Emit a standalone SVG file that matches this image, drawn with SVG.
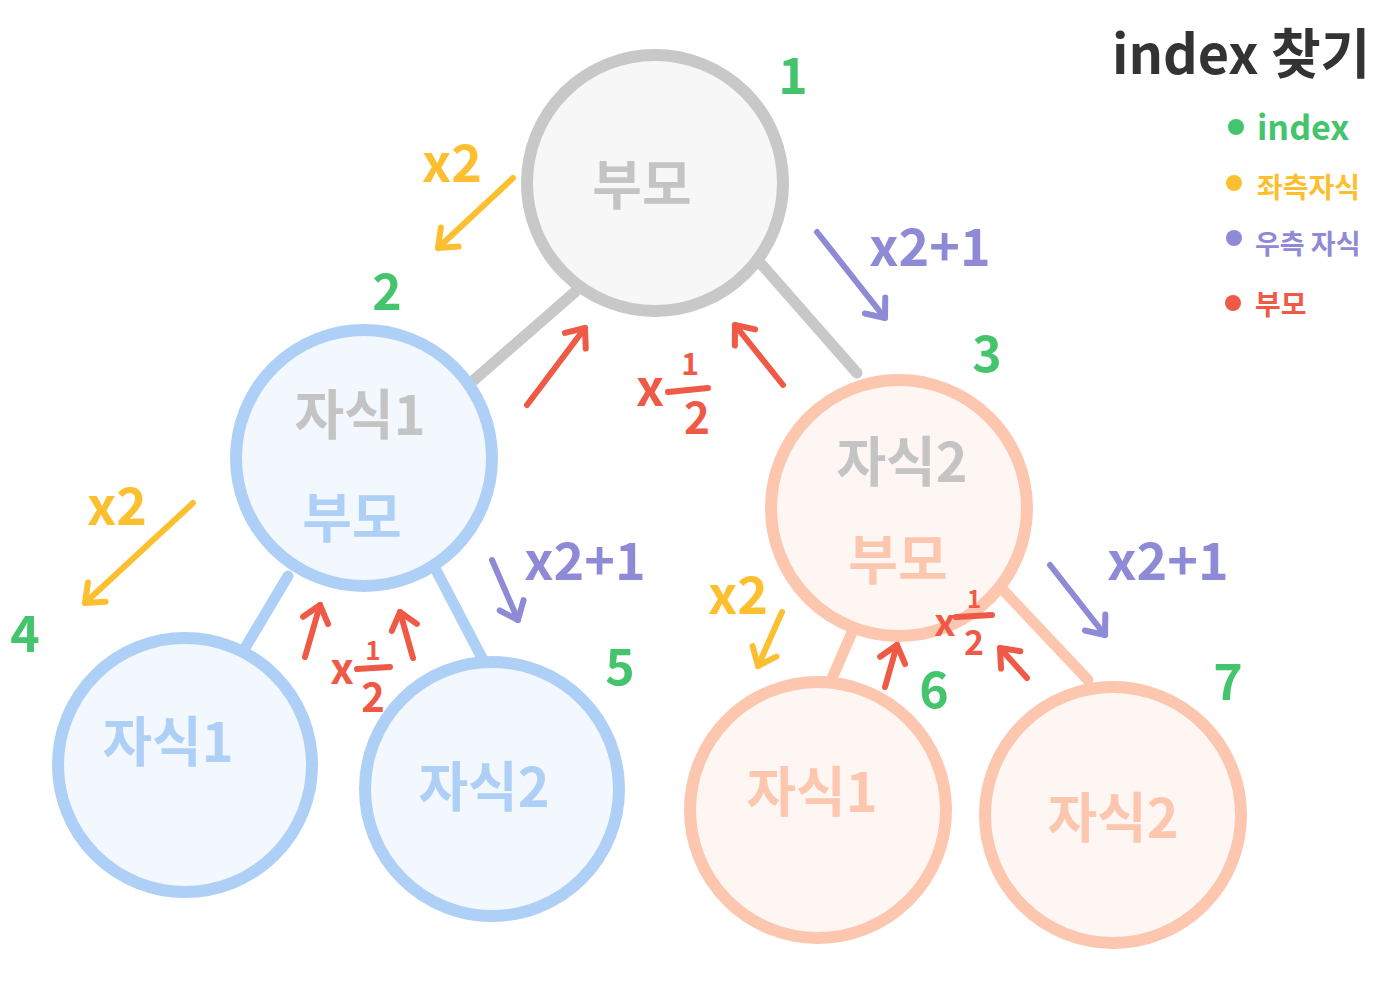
<svg xmlns="http://www.w3.org/2000/svg" width="1378" height="999" viewBox="0 0 1378 999">
<defs>
<style>
text{font-family:"Noto Sans CJK KR","Noto Sans",sans-serif;font-weight:700}
.lbl{font-size:54px;text-anchor:middle}
.g{fill:#c4c4c4}
.num{fill:#45c46e;font-size:50px;text-anchor:middle}
.ye{fill:#fcbf2f}
.pu{fill:#8e8ad6}
.re{fill:#ef5a47}
.ann{font-size:52px;text-anchor:middle}
.gray{fill:#f7f7f7;stroke:#c8c8c8;stroke-width:12}
.blue{fill:#f3f8fe;stroke:#aed0f7;stroke-width:12}
.peach{fill:#fdf6f2;stroke:#fdc6ae;stroke-width:12}
.edge{stroke-width:11;stroke-linecap:round;fill:none}
.arr{stroke-width:6;stroke-linecap:round;fill:none}
.fl{stroke:#ef5a47;stroke-width:6;stroke-linecap:round}
</style>
<marker id="hy" markerUnits="userSpaceOnUse" markerWidth="40" markerHeight="40" refX="0" refY="0" viewBox="-20 -20 40 40" orient="auto"><path d="M-16,-13 L0,0 L-16,13" fill="none" stroke="#fcbf2f" stroke-width="6" stroke-linecap="round" stroke-linejoin="round"/></marker>
<marker id="hp" markerUnits="userSpaceOnUse" markerWidth="40" markerHeight="40" refX="0" refY="0" viewBox="-20 -20 40 40" orient="auto"><path d="M-16,-13 L0,0 L-16,13" fill="none" stroke="#8e8ad6" stroke-width="6" stroke-linecap="round" stroke-linejoin="round"/></marker>
<marker id="hr" markerUnits="userSpaceOnUse" markerWidth="40" markerHeight="40" refX="0" refY="0" viewBox="-20 -20 40 40" orient="auto"><path d="M-16,-13 L0,0 L-16,13" fill="none" stroke="#ef5a47" stroke-width="6" stroke-linecap="round" stroke-linejoin="round"/></marker>
</defs>
<rect width="1378" height="999" fill="#ffffff"/>

<g id="connectors">
<line class="edge" x1="575" y1="292" x2="474" y2="380" stroke="#c8c8c8"/>
<line class="edge" x1="762" y1="265" x2="857" y2="373" stroke="#c8c8c8"/>
<line class="edge" x1="288" y1="576" x2="245" y2="648" stroke="#aed0f7"/>
<line class="edge" x1="436" y1="570" x2="483" y2="660" stroke="#aed0f7"/>
<line class="edge" x1="853" y1="630" x2="830" y2="683" stroke="#fdc6ae"/>
<line class="edge" x1="1005" y1="592" x2="1088" y2="680" stroke="#fdc6ae"/>
</g>

<g id="node1">
<circle class="gray" cx="655" cy="183" r="128"/>
<text class="lbl g" x="642" y="205" font-size="60">부모</text>
<text class="num" x="793" y="94">1</text>
</g>
<g id="node2">
<circle class="blue" cx="364" cy="458" r="128"/>
<text class="lbl g" x="360" y="435">자식1</text>
<text class="lbl" x="352" y="538" fill="#aed0f7">부모</text>
<text class="num" x="387" y="310">2</text>
</g>
<g id="node3">
<circle class="peach" cx="899" cy="508" r="128"/>
<text class="lbl g" x="902" y="482">자식2</text>
<text class="lbl" x="898" y="580" fill="#fdc6ae">부모</text>
<text class="num" x="987" y="372">3</text>
</g>
<g id="node4">
<circle class="blue" cx="185" cy="765" r="127"/>
<text class="lbl" x="168" y="762" fill="#aed0f7">자식1</text>
<text class="num" x="25" y="652">4</text>
</g>
<g id="node5">
<circle class="blue" cx="492" cy="789" r="127"/>
<text class="lbl" x="484" y="807" fill="#aed0f7">자식2</text>
<text class="num" x="620" y="685">5</text>
</g>
<g id="node6">
<circle class="peach" cx="818" cy="810" r="128"/>
<text class="lbl" x="812" y="812" fill="#fdc6ae">자식1</text>
<text class="num" x="934" y="708">6</text>
</g>
<g id="node7">
<circle class="peach" cx="1113" cy="815" r="128"/>
<text class="lbl" x="1113" y="838" fill="#fdc6ae">자식2</text>
<text class="num" x="1228" y="700">7</text>
</g>

<g id="annotations">
<text class="ann ye" x="452" y="182">x2</text>
<path class="arr" d="M513,178 L438,248" stroke="#fcbf2f" marker-end="url(#hy)"/>
<text class="ann pu" x="930" y="266">x2+1</text>
<path class="arr" d="M817,232 L885,318" stroke="#8e8ad6" marker-end="url(#hp)"/>
<path class="arr" d="M527,405 L585,328" stroke="#ef5a47" marker-end="url(#hr)"/>
<path class="arr" d="M783,385 L735,325" stroke="#ef5a47" marker-end="url(#hr)"/>
<g class="re">
<text x="650" y="406" font-size="50" text-anchor="middle">x</text>
<text x="690" y="375" font-size="30" text-anchor="middle">1</text>
<line class="fl" x1="668" y1="392" x2="708" y2="388"/>
<text x="697" y="434" font-size="44" text-anchor="middle">2</text>
</g>

<text class="ann ye" x="117" y="525">x2</text>
<path class="arr" d="M193,503 L85,603" stroke="#fcbf2f" marker-end="url(#hy)"/>
<text class="ann pu" x="585" y="580">x2+1</text>
<path class="arr" d="M492,560 L518,620" stroke="#8e8ad6" marker-end="url(#hp)"/>
<path class="arr" d="M305,657 L320,605" stroke="#ef5a47" marker-end="url(#hr)"/>
<path class="arr" d="M413,658 L400,612" stroke="#ef5a47" marker-end="url(#hr)"/>
<g class="re">
<text x="342" y="684" font-size="42" text-anchor="middle">x</text>
<text x="373" y="660" font-size="26" text-anchor="middle">1</text>
<line class="fl" x1="357" y1="669" x2="390" y2="667"/>
<text x="373" y="712" font-size="40" text-anchor="middle">2</text>
</g>

<text class="ann ye" x="738" y="614">x2</text>
<path class="arr" d="M782,612 L758,666" stroke="#fcbf2f" marker-end="url(#hy)"/>
<text class="ann pu" x="1168" y="580">x2+1</text>
<path class="arr" d="M1050,565 L1105,635" stroke="#8e8ad6" marker-end="url(#hp)"/>
<path class="arr" d="M885,687 L897,645" stroke="#ef5a47" marker-end="url(#hr)"/>
<path class="arr" d="M1027,678 L1000,648" stroke="#ef5a47" marker-end="url(#hr)"/>
<g class="re">
<text x="945" y="636" font-size="38" text-anchor="middle">x</text>
<text x="974" y="608" font-size="24" text-anchor="middle">1</text>
<line class="fl" x1="956" y1="617" x2="992" y2="615"/>
<text x="974" y="655" font-size="34" text-anchor="middle">2</text>
</g>
</g>

<g id="legend">
<text x="1112" y="74" font-size="54" fill="#333333">index 찾기</text>
<circle cx="1236" cy="127" r="8" fill="#45c46e"/>
<text x="1257" y="140" font-size="34" fill="#45c46e">index</text>
<circle cx="1234" cy="183" r="8" fill="#fcbf2f"/>
<text x="1257" y="198" font-size="28" fill="#fcbf2f">좌측자식</text>
<circle cx="1234" cy="238" r="8" fill="#8e8ad6"/>
<text x="1255" y="254" font-size="27" fill="#8e8ad6">우측 자식</text>
<circle cx="1233" cy="303" r="8" fill="#ef5a47"/>
<text x="1255" y="315" font-size="28" fill="#ef5a47">부모</text>
</g>
</svg>
